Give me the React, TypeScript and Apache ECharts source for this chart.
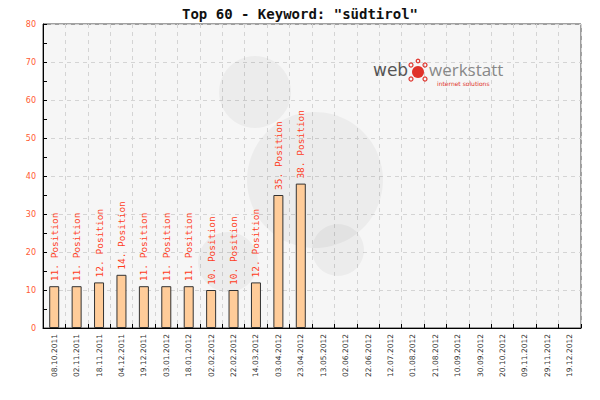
import React, { useEffect, useRef } from "react";
import * as echarts from "echarts";

const categories = [
  "08.10.2011", "02.11.2011", "18.11.2011", "04.12.2011", "19.12.2011", "03.01.2012",
  "18.01.2012", "02.02.2012", "22.02.2012", "14.03.2012", "03.04.2012", "23.04.2012",
  "13.05.2012", "02.06.2012", "22.06.2012", "12.07.2012", "01.08.2012", "21.08.2012",
  "10.09.2012", "30.09.2012", "20.10.2012", "09.11.2012", "29.11.2012", "19.12.2012",
];
const positions: (number | null)[] = [
  11, 11, 12, 14, 11, 11, 11, 10, 10, 12, 35, 38,
  null, null, null, null, null, null, null, null, null, null, null, null,
];
const titleText = 'Top 60 - Keyword: "südtirol"';
const yMax = 80;
const yInterval = 10;

export default function App() {
  const ref = useRef<HTMLDivElement>(null);
  useEffect(() => {
    document.body.style.margin = "0";
    if (!ref.current) return;
    const chart = echarts.init(ref.current, null, { renderer: "svg" });
    const wm = "rgba(0,0,0,0.04)";
    const red = "#e0322a";
    chart.setOption({
      animation: false,
      backgroundColor: "#ffffff",
      title: {
        text: titleText,
        left: "center",
        top: 2,
        textStyle: { fontFamily: "DejaVu Sans Mono", fontWeight: "bold", fontSize: 14, color: "#111" },
      },
      grid: {
        left: 43, right: 19, top: 24, bottom: 72,
        show: true, backgroundColor: "#f6f6f6", borderColor: "#444", borderWidth: 1,
      },
      graphic: [
        { type: "circle", z: 1, shape: { cx: 255, cy: 92, r: 36 }, style: { fill: wm } },
        { type: "circle", z: 1, shape: { cx: 315, cy: 180, r: 68 }, style: { fill: wm } },
        { type: "circle", z: 1, shape: { cx: 228, cy: 262, r: 30 }, style: { fill: wm } },
        { type: "circle", z: 1, shape: { cx: 338, cy: 250, r: 26 }, style: { fill: wm } },
        { type: "text", z: 5, x: 373, y: 61, style: { text: "web", font: "17px 'DejaVu Sans'", fill: "#555" } },
        { type: "circle", z: 5, shape: { cx: 418, cy: 72, r: 6 }, style: { fill: red } },
        { type: "circle", z: 5, shape: { cx: 411, cy: 65, r: 2 }, style: { fill: "none", stroke: red, lineWidth: 1.2 } },
        { type: "circle", z: 5, shape: { cx: 425, cy: 65, r: 2 }, style: { fill: "none", stroke: red, lineWidth: 1.2 } },
        { type: "circle", z: 5, shape: { cx: 411, cy: 79, r: 2 }, style: { fill: "none", stroke: red, lineWidth: 1.2 } },
        { type: "circle", z: 5, shape: { cx: 425, cy: 79, r: 2 }, style: { fill: "none", stroke: red, lineWidth: 1.2 } },
        { type: "circle", z: 5, shape: { cx: 418, cy: 61, r: 1.8 }, style: { fill: "none", stroke: red, lineWidth: 1.2 } },
        { type: "text", z: 5, x: 429, y: 61, style: { text: "werkstatt", font: "17px 'Open Sans'", fill: "#888" } },
        { type: "text", z: 5, x: 437, y: 80, style: { text: "internet solutions", font: "6px 'DejaVu Sans'", fill: red } },
      ],
      xAxis: {
        type: "category",
        data: categories,
        boundaryGap: true,
        axisLine: { lineStyle: { color: "#000", width: 1 } },
        axisTick: { show: true, inside: true, length: 4, lineStyle: { color: "#000" } },
        axisLabel: {
          rotate: 90, interval: 0, margin: 6,
          fontFamily: "DejaVu Sans", fontSize: 7.5, color: "#333",
        },
        splitLine: { show: true, lineStyle: { color: "#d4d4d4", type: [4, 4] } },
      },
      yAxis: {
        type: "value",
        min: 0, max: yMax, interval: yInterval,
        axisLine: { show: true, lineStyle: { color: "#000", width: 1 } },
        axisTick: { show: true, inside: true, length: 4, lineStyle: { color: "#000" } },
        minorTick: { show: true, splitNumber: 2, length: 4, lineStyle: { color: "#000" } },
        axisLabel: { fontFamily: "DejaVu Sans", fontSize: 8, color: "#ff5a33", margin: 7 },
        splitLine: { show: true, lineStyle: { color: "#d4d4d4", type: [4, 4] } },
      },
      series: [
        {
          type: "bar",
          data: positions,
          barWidth: 10,
          z: 3,
          itemStyle: { color: "#ffcc99", borderColor: "#333", borderWidth: 1 },
          label: {
            show: true,
            position: "top",
            rotate: 90,
            align: "left",
            verticalAlign: "middle",
            distance: 5,
            fontFamily: "DejaVu Sans Mono",
            fontSize: 9.5,
            color: "#ff3b1a",
            formatter: (p: any) => `${p.value}. Position`,
          },
        },
      ],
    });
    return () => chart.dispose();
  }, []);
  return <div ref={ref} style={{ width: 600, height: 400 }} />;
}
